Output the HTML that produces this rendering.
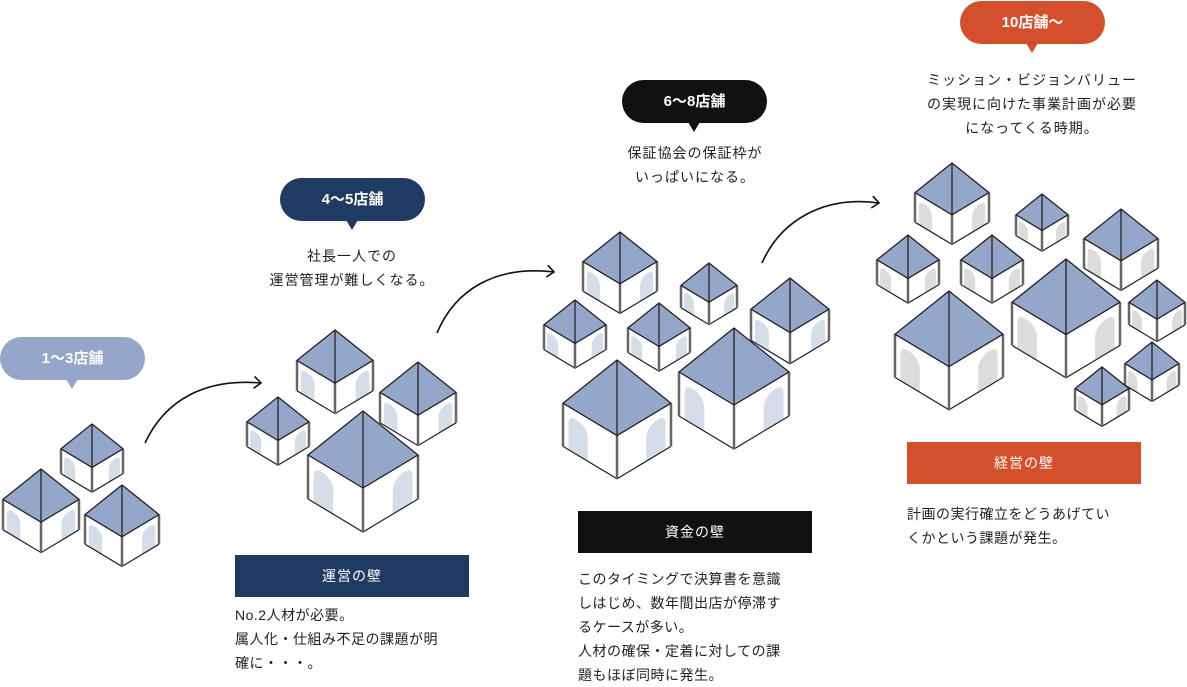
<!DOCTYPE html>
<html><head><meta charset="utf-8"><style>
body{margin:0;width:1187px;height:683px;background:#fff;position:relative;overflow:hidden;font-family:"Liberation Sans","Noto Sans CJK JP",sans-serif;color:#222}
.pill{position:absolute;width:145px;height:43px;border-radius:22px;color:#fff;font-weight:bold;font-size:15px;line-height:43px;text-align:center}
.pill:after{content:"";position:absolute;left:66px;bottom:-9px;border-left:6px solid transparent;border-right:6px solid transparent;border-top:10px solid var(--c)}
.desc{position:absolute;font-size:14px;line-height:24px;text-align:center;letter-spacing:1px;white-space:nowrap}
.box{position:absolute;width:234px;height:42px;line-height:42px;color:#fff;text-align:center;font-size:14px;letter-spacing:1px}
.txt{position:absolute;font-size:14px;line-height:24px;letter-spacing:.5px;white-space:nowrap}
svg{position:absolute;left:0;top:0}
</style></head><body>
<svg id="s" width="1187" height="683" viewBox="0 0 1187 683"></svg>
<div class="pill" style="left:0;top:337px;background:#94a7cb;--c:#94a7cb">1〜3店舗</div>
<div class="pill" style="left:280px;top:178px;background:#1f3a63;--c:#1f3a63">4〜5店舗</div>
<div class="pill" style="left:622px;top:80px;background:#111;--c:#111">6〜8店舗</div>
<div class="pill" style="left:960px;top:1px;background:#d4502c;--c:#d4502c">10店舗〜</div>
<div class="desc" style="left:252px;width:200px;top:244px">社長一人での<br>運営管理が難しくなる。</div>
<div class="desc" style="left:595px;width:200px;top:141px">保証協会の保証枠が<br>いっぱいになる。</div>
<div class="desc" style="left:912px;width:240px;top:68px">ミッション・ビジョンバリュー<br>の実現に向けた事業計画が必要<br>になってくる時期。</div>
<div class="box" style="left:235px;top:555px;background:#1f3a63">運営の壁</div>
<div class="box" style="left:578px;top:511px;background:#111">資金の壁</div>
<div class="box" style="left:907px;top:442px;background:#d4502c">経営の壁</div>
<div class="txt" style="left:235px;top:603px">No.2人材が必要。<br>属人化・仕組み不足の課題が明<br>確に・・・。</div>
<div class="txt" style="left:578px;top:567px">このタイミングで決算書を意識<br>しはじめ、数年間出店が停滞す<br>るケースが多い。<br>人材の確保・定着に対しての課<br>題もほぼ同時に発生。</div>
<div class="txt" style="left:907px;top:502px">計画の実行確立をどうあげてい<br>くかという課題が発生。</div>
<script>
var s=document.getElementById('s'),h='';
function house(cx,ay,w,win){
 var L=[cx-w,ay+.8*w],F=[cx,ay+1.4*w],R=[cx+w,ay+.8*w],d=.8*w;
 var p=function(a){return a[0].toFixed(1)+','+a[1].toFixed(1)};
 var L2=[L[0],L[1]+d],F2=[F[0],F[1]+d],R2=[R[0],R[1]+d];
 h+='<polygon points="'+p(L)+' '+p(F)+' '+p(R)+' '+p(R2)+' '+p(F2)+' '+p(L2)+'" fill="#fff"/>';
 var arch='M0.1,1 L0.1,0.4 Q0.1,0.18 0.28,0.2 Q0.46,0.24 0.46,0.48 L0.46,1Z';
 var arch2='M0.54,1 L0.54,0.48 Q0.54,0.24 0.72,0.2 Q0.9,0.18 0.9,0.4 L0.9,1Z';
 h+='<path d="'+arch+'" fill="'+win+'" transform="matrix('+w+','+(.6*w)+',0,'+d+','+(cx-w)+','+L[1]+')"/>';
 h+='<path d="'+arch2+'" fill="'+win+'" transform="matrix('+w+','+(-.6*w)+',0,'+d+','+cx+','+F[1]+')"/>';
 h+='<polyline points="'+p(L2)+' '+p(F2)+' '+p(R2)+'" fill="none" stroke="#222" stroke-width="1.2"/>';
 [[L,L2],[F,F2],[R,R2]].forEach(function(e){h+='<line x1="'+e[0][0]+'" y1="'+e[0][1]+'" x2="'+e[1][0]+'" y2="'+e[1][1]+'" stroke="#666" stroke-width="2.5"/>'});
 h+='<polygon points="'+cx+','+ay+' '+p(L)+' '+p(F)+' '+p(R)+'" fill="#94a7cb" stroke="#222" stroke-width="1.3" stroke-linejoin="round"/>';
 h+='<line x1="'+cx+'" y1="'+ay+'" x2="'+F[0]+'" y2="'+F[1]+'" stroke="#222" stroke-width="1.3"/>';
}
var B='#d5dee8',G='#dcdcdc';
[[92,424,31],[41,469,38],[122,485,37]].forEach(function(a){house(a[0],a[1],a[2],B)});
[[335,330,38],[418,362,38],[278,397,31],[363,411,55]].forEach(function(a){house(a[0],a[1],a[2],B)});
[[620,232,37],[709,263,28],[790,278,39],[575,300,31],[659,303,31],[734,328,55],[617,360,54]].forEach(function(a){house(a[0],a[1],a[2],B)});
[[952,163,37],[1042,194,26],[1121,209,37],[908,235,31],[992,235,31],[1066,259,54],[1157,280,28],[949,291,54],[1152,342,27],[1102,367,27]].forEach(function(a){house(a[0],a[1],a[2],G)});
function arrow(d,x,y,ang){h+='<path d="'+d+'" fill="none" stroke="#111" stroke-width="1.6"/>';
 h+='<polyline points="-7,-6 0,0 -7,6" fill="none" stroke="#111" stroke-width="1.6" transform="translate('+x+','+y+') rotate('+ang+')"/>';}
arrow('M145,443 C165,400 205,378 261,383',261,383,5);
arrow('M437,333 C455,290 495,265 554,272',554,272,7);
arrow('M762,263 C780,222 822,195 879,203',879,203,8);
s.innerHTML=h;
</script>
</body></html>
